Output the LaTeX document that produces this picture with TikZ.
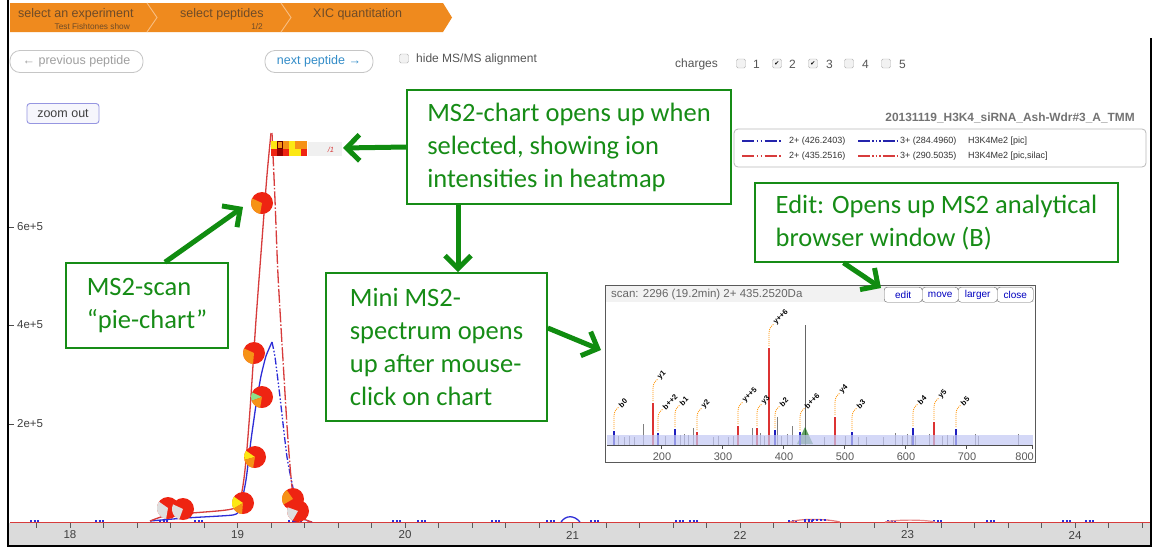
\documentclass[tikz,border=0pt]{standalone}
\usepackage{fontspec}
\setmainfont{Liberation Sans}
\newfontfamily\calib{Carlito}
\newfontfamily\dejavu{DejaVu Sans}
\usetikzlibrary{arrows.meta,calc}
\definecolor{bcorange}{RGB}{239,138,30}
\definecolor{bcsep}{RGB}{248,190,130}
\definecolor{bctext}{RGB}{110,75,40}
\definecolor{gtext}{RGB}{22,140,22}
\definecolor{agreen}{RGB}{16,140,16}
\definecolor{pred}{RGB}{238,36,18}
\definecolor{porange}{RGB}{246,146,22}
\definecolor{pyellow}{RGB}{252,232,20}
\definecolor{plgreen}{RGB}{140,225,140}
\definecolor{pgrey}{RGB}{222,222,222}
\definecolor{tred}{RGB}{215,60,60}
\definecolor{tblue}{RGB}{45,45,215}
\definecolor{sblue}{RGB}{30,30,190}
\definecolor{sred}{RGB}{220,50,50}
\definecolor{band}{RGB}{195,200,245}
\definecolor{uigrey}{RGB}{85,85,85}
\newcommand\mypie[3]{%
  \fill[pred] (#1,#2) circle (11pt);
  \foreach \a/\b/\c in {#3} {\fill[\c] (#1,#2) -- +(\a:11) arc[start angle=\a, end angle=\b, radius=11] -- cycle;}}
\begin{document}
\begin{tikzpicture}[x=1pt,y=-1pt,
  gbox/.style={draw=gtext, line width=1.6pt, fill=white, text=gtext, align=left,
    font=\calib\fontsize{26.5}{33}\selectfont, inner sep=0pt},
  garrow/.style={draw=agreen, line width=5pt, -{Straight Barb[length=13pt,width=26pt]}},
  uibtn/.style={draw=gray!45, rounded corners=10pt, line width=0.8pt, inner sep=0pt,
    font=\fontsize{12.5}{14}\selectfont},
  cbox/.style={draw=gray!60, fill=gray!10, rounded corners=1.5pt, minimum size=9pt, inner sep=0pt,
    font=\dejavu\fontsize{6}{6}\selectfont},
  uitext/.style={text=uigrey, font=\fontsize{12}{14}\selectfont, inner sep=0pt},
  legtext/.style={text=black!80, font=\fontsize{9}{10}\selectfont, inner sep=0pt, anchor=west},
  axlab/.style={text=black!75, font=\fontsize{11.5}{13}\selectfont, inner sep=0pt},
  saxlab/.style={text=black!65, font=\fontsize{11}{12}\selectfont, inner sep=0pt},
  specbtn/.style={draw=black!60, rounded corners=3pt, fill=white, text=blue!75!black,
    font=\fontsize{10}{11}\selectfont, minimum height=15pt, inner sep=0pt, anchor=north west},
  peaklab/.style={rotate=45, anchor=west, font=\bfseries\fontsize{7.5}{8}\selectfont, inner sep=0.3pt},
  leader/.style={draw=orange!85!yellow, line width=0.8pt, dash pattern=on 1pt off 1pt}
]
\useasboundingbox (0,0) rectangle (1159,547);
\fill[white] (0,0) rectangle (1159,547);

% ---------- breadcrumb ----------
\fill[bcorange] (10,3) -- (443,3) -- (452,17.5) -- (443,32) -- (10,32) -- cycle;
\draw[bcsep, line width=0.9pt] (147,3) -- (157,17.5) -- (147,32);
\draw[bcsep, line width=0.9pt] (281,3) -- (291,17.5) -- (281,32);
\node[text=bctext, font=\fontsize{12.5}{13}\selectfont, anchor=west, inner sep=0] (bc1) at (18,14.5) {select an experiment};
\node[text=bctext, font=\fontsize{8.3}{9}\selectfont, anchor=east, inner sep=0] (bc1s) at (130,27) {Test Fishtones show};
\node[text=bctext, font=\fontsize{12.5}{13}\selectfont, anchor=west, inner sep=0] (bc2) at (180,14.5) {select peptides};
\node[text=bctext, font=\fontsize{8.3}{9}\selectfont, anchor=east, inner sep=0] (bc2s) at (263,27) {1/2};
\node[text=bctext, font=\fontsize{12.5}{13}\selectfont, anchor=west, inner sep=0] (bc3) at (313,14.5) {XIC quantitation};

% ---------- controls ----------
\node[uibtn, text=gray!75, minimum width=133pt, minimum height=22pt] (prev) at (76.5,61.5) {← previous peptide};
\node[uibtn, text={rgb,255:red,50;green,140;blue,200}, minimum width=108pt, minimum height=22pt] (next) at (319,61.5) {next peptide →};
\node[cbox] (cbhide) at (404,58.5) {};
\node[uitext, anchor=west] (hide) at (416,59) {hide MS/MS alignment};
\node[uitext, anchor=west] (charges) at (675,64.5) {charges};
\node[cbox] (c1) at (741,63.5) {};
\node[uitext, anchor=west] (l1) at (753,64) {1};
\node[cbox] (c2) at (777,63.5) {✔};
\node[uitext, anchor=west] (l2) at (789,64) {2};
\node[cbox] (c3) at (813,63.5) {✔};
\node[uitext, anchor=west] (l3) at (826,64) {3};
\node[cbox] (c4) at (849,63.5) {};
\node[uitext, anchor=west] (l4) at (862,64) {4};
\node[cbox] (c5) at (886,63.5) {};
\node[uitext, anchor=west] (l5) at (899,64) {5};

\node[draw={rgb,255:red,150;green,150;blue,225}, fill={rgb,255:red,246;green,246;blue,252}, rounded corners=3pt,
  line width=0.9pt, minimum width=72pt, minimum height=20pt, inner sep=0pt, text=black!75,
  font=\fontsize{12.5}{14}\selectfont] (zoomout) at (63,113.5) {zoom out};

\node[text=gray!90!black, font=\bfseries\fontsize{11.9}{13}\selectfont, anchor=east, inner sep=0] (title) at (1135,118) {20131119\_H3K4\_siRNA\_Ash-Wdr\#3\_A\_TMM};

% legend
\node[draw=gray!55, rounded corners=4pt, line width=0.8pt, minimum width=412pt, minimum height=38pt, inner sep=0] (legend) at (940,148) {};
\draw[tblue!80!black, line width=1.2pt, dash pattern=on 12pt off 2.5pt on 1.5pt off 2.5pt on 1.5pt off 2.5pt] (742,141) -- (782,141);
\node[legtext] (lg1) at (789,141) {2+ (426.2403)};
\draw[tblue!80!black, line width=1.2pt, dash pattern=on 12pt off 2pt on 1.5pt off 2pt on 1.5pt off 2pt on 1.5pt off 2pt] (858,141) -- (897,141);
\node[legtext] (lg2) at (900,141) {3+ (284.4960)};
\node[legtext] (lg3) at (968,141) {H3K4Me2 [pic]};
\draw[tred, line width=1.2pt, dash pattern=on 12pt off 2.5pt on 1.5pt off 2.5pt on 1.5pt off 2.5pt] (742,156) -- (782,156);
\node[legtext] (lg4) at (789,156) {2+ (435.2516)};
\draw[tred, line width=1.2pt, dash pattern=on 12pt off 2pt on 1.5pt off 2pt on 1.5pt off 2pt on 1.5pt off 2pt] (858,156) -- (897,156);
\node[legtext] (lg5) at (900,156) {3+ (290.5035)};
\node[legtext] (lg6) at (968,156) {H3K4Me2 [pic,silac]};

% ---------- chart axes ----------
\fill[gray!28] (9,523) rectangle (1150,545);
\foreach \k in {0,...,33} {\draw[black!65, line width=0.8pt] (36.5+33.5*\k,523) -- (36.5+33.5*\k,528);}
\foreach \lab [count=\i from 0] in {18,19,20,21,22,23,24} {\node[axlab] (xl\lab) at (70+167.5*\i,535) {\lab};}
\foreach \yy/\lab in {227/6e+5,325/4e+5,424/2e+5} {
  \draw[black!70, line width=0.8pt] (8,\yy) -- (14,\yy);
  \node[axlab, anchor=west] (yl\yy) at (17,\yy) {\lab};}

% baseline traces
\draw[tblue, line width=1.4pt, dash pattern=on 2pt off 1.5pt on 2pt off 1.5pt on 2pt off 120pt] (30,521) -- (1150,521);
\draw[tblue, line width=1.4pt, dash pattern=on 2pt off 1.5pt on 2pt off 1.5pt on 2pt off 90pt] (95,521) -- (1150,521);
\draw[tred, line width=1.3pt] (10,522.5) -- (1150,522.5);
\draw[tblue, line width=1.3pt] (561,522) .. controls (566,515) and (574,515) .. (580,522);
\draw[tred!70, line width=1.2pt] (790,522) .. controls (800,518.5) and (825,518.5) .. (840,522);
\draw[tblue, line width=1.2pt, dash pattern=on 2pt off 2pt] (804,520) -- (828,520);
\draw[tred!60, line width=1.2pt] (885,522) .. controls (895,519.5) and (925,519.5) .. (935,522);

% peak traces
\draw[tblue, line width=1.3pt] plot[smooth, tension=0.3] coordinates {(150,521) (185,518) (233,515) (240,509) (246,480) (251,440) (256,405) (261,376) (266,356) (272,342)};
\draw[tblue, line width=1.3pt, dash pattern=on 7pt off 2pt on 1.5pt off 2pt on 1.5pt off 2pt] plot[smooth, tension=0.3] coordinates {(272,342) (275,357) (280,397) (287,457) (295,497) (302,518) (312,522)};
\draw[tred, line width=1.3pt] plot[smooth, tension=0.5] coordinates {(150,521) (168,515) (192,513) (232,509) (240,500) (245,470) (250,410) (256,320) (262,240) (267,175) (271,133)};
\draw[tred, line width=1.3pt, dash pattern=on 14pt off 2pt on 1.5pt off 2pt] plot[smooth, tension=0.5] coordinates {(272,133) (275,200) (278,275) (283,360) (288,440) (293,495) (300,516) (312,522)};

% heatmap
\fill[gray!12] (308,142) rectangle (342,156);
\foreach \xa/\ct/\cb in {271/pyellow/pred, 277/porange/red!60!black, 283/porange/pred, 289/pyellow/pyellow, 295/porange/pyellow, 301/porange/pred} {
  \fill[\ct] (\xa,141) rectangle (\xa+6,149);
  \fill[\cb] (\xa,149) rectangle (\xa+6,156);}
\draw[red!40!black, line width=0.6pt] (277.5,141.5) rectangle (282.5,148.5);
\node[text=tred, font=\itshape\fontsize{7.5}{8}\selectfont, inner sep=0] (hmlab) at (331,150) {/1};
\coordinate (hmtip) at (343,148);

% pies
\mypie{168}{508}{100/215/pgrey}
\mypie{183}{509}{110/205/pgrey}
\mypie{243}{503}{150/215/pyellow,95/150/porange}
\mypie{255}{457}{165/215/pyellow,100/165/porange}
\mypie{262}{397}{160/205/plgreen,100/160/porange}
\mypie{254}{353}{95/205/porange}
\mypie{262}{203}{100/205/porange}
\mypie{293}{499}{150/235/porange}
\mypie{298}{511}{120/200/pgrey}
\coordinate (pietip) at (243,207);

% ---------- spectrum panel ----------
\fill[white] (605,285) rectangle (1035,462);
\fill[gray!10] (606,286) rectangle (1034,302);
\node[text=black!60, font=\fontsize{11.5}{12}\selectfont, anchor=west, inner sep=0] (scan) at (611,294.5) {scan: 2296 (19.2min) 2+ 435.2520Da};
\node[specbtn, minimum width=38pt] (bedit) at (884,287) {edit};
\node[specbtn, minimum width=36pt] (bmove) at (922,287) {move};
\node[specbtn, minimum width=39pt] (blarger) at (958,287) {larger};
\node[specbtn, minimum width=36pt] (bclose) at (997,287) {close};
% grey peaks
\foreach \x/\t in {618/436,624/437,629/436,634/437,643/424,665/436,680/435,684/434,688/435,693/428,713/437,718/436,728/437,733/436,752/428,760/433,764/436,768/431,777/417,781/436,787/434,792/426,824/437,845/436,858/437,866/437,883/437,895/433,902/436,907/434,911/436,915/436,929/434,942/436,947/435,953/436,975/434,978/436,1018/434}
  {\draw[black!50, line width=0.7pt] (\x,445) -- (\x,\t);}
\draw[black!60, line width=0.8pt] (805,445) -- (805,325);
\fill[green!40!black, opacity=0.6] (797,444) -- (805,427) -- (813,444) -- cycle;
% coloured peaks
\foreach \x/\t in {614/431,658/433,675/429,775/430,800/432,852/432,913/428,956/429}
  {\draw[sblue, line width=2.3pt] (\x,445) -- (\x,\t);}
\foreach \x/\t in {653/403,697/432,738/426,757/428,769/348,835/417,934/422}
  {\draw[sred, line width=2.3pt] (\x,445) -- (\x,\t);}
\fill[band, opacity=0.7] (607,435) rectangle (1033,445);
% leaders and labels
\foreach \x/\t/\lab in {614/431/b0,653/403/y1,658/433/b++2,675/429/b1,697/432/y2,738/426/y++5,757/428/y3,769/348/y++6,775/430/b2,800/432/b++6,835/417/y4,852/432/b3,913/428/b4,934/422/y5,956/429/b5} {
  \draw[leader] (\x,\t-2) -- (\x,\t-15) .. controls (\x,\t-19) and (\x+2,\t-22) .. (\x+5,\t-24);
  \node[peaklab] at (\x+5.5,\t-24.5) {\lab};}
% axis
\draw[black!70, line width=0.8pt] (607,445) -- (1033,445);
\foreach \lab [count=\i from 0] in {200,300,400,500,600,700} {
  \draw[black!70, line width=0.8pt] (661+61*\i,445) -- (661+61*\i,449);
  \node[saxlab] (sx\lab) at (662+61*\i,456.5) {\lab};}
\draw[black!70, line width=0.8pt] (1032,445) -- (1032,449);
\node[saxlab, anchor=east] (sx800) at (1034,456.5) {800};
\node[draw=black!65, line width=1pt, minimum width=430pt, minimum height=177pt, inner sep=0, anchor=north west] (spec) at (605,285) {};
\coordinate (spectip) at (601,350);

% frame
\draw[black, line width=2.4pt] (8,0) -- (8,546) -- (1151,546) -- (1151,38);

% ---------- annotation boxes ----------
\node[gbox, minimum width=324pt, minimum height=114pt] (chartbox) at (569,147)
  {MS2-chart opens up when\\selected, showing ion\\intensities in heatmap};
\node[gbox, minimum width=363pt, minimum height=79pt] (editbox) at (936.5,222.5)
  {Edit: Opens up MS2 analytical\\browser window (B)};
\node[gbox, minimum width=162pt, minimum height=85pt] (piebox) at (147,305.5)
  {MS2-scan\\“pie-chart”};
\node[gbox, minimum width=221pt, minimum height=148pt] (minibox) at (436.5,347)
  {Mini MS2-\\spectrum opens\\up after mouse-\\click on chart};

% arrows
\draw[garrow] (chartbox.west) -- (hmtip);
\draw[garrow] ([xshift=-111pt]chartbox.south) -- ([xshift=-111pt]chartbox.south |- minibox.north);
\draw[garrow] ([xshift=18pt]piebox.north) -- (pietip);
\draw[garrow] ([yshift=19pt]minibox.east) -- (spectip);
\draw[garrow] ([xshift=-93pt]editbox.south) -- ([xshift=-3pt,yshift=-1pt]bedit.north west);
\end{tikzpicture}
\end{document}
